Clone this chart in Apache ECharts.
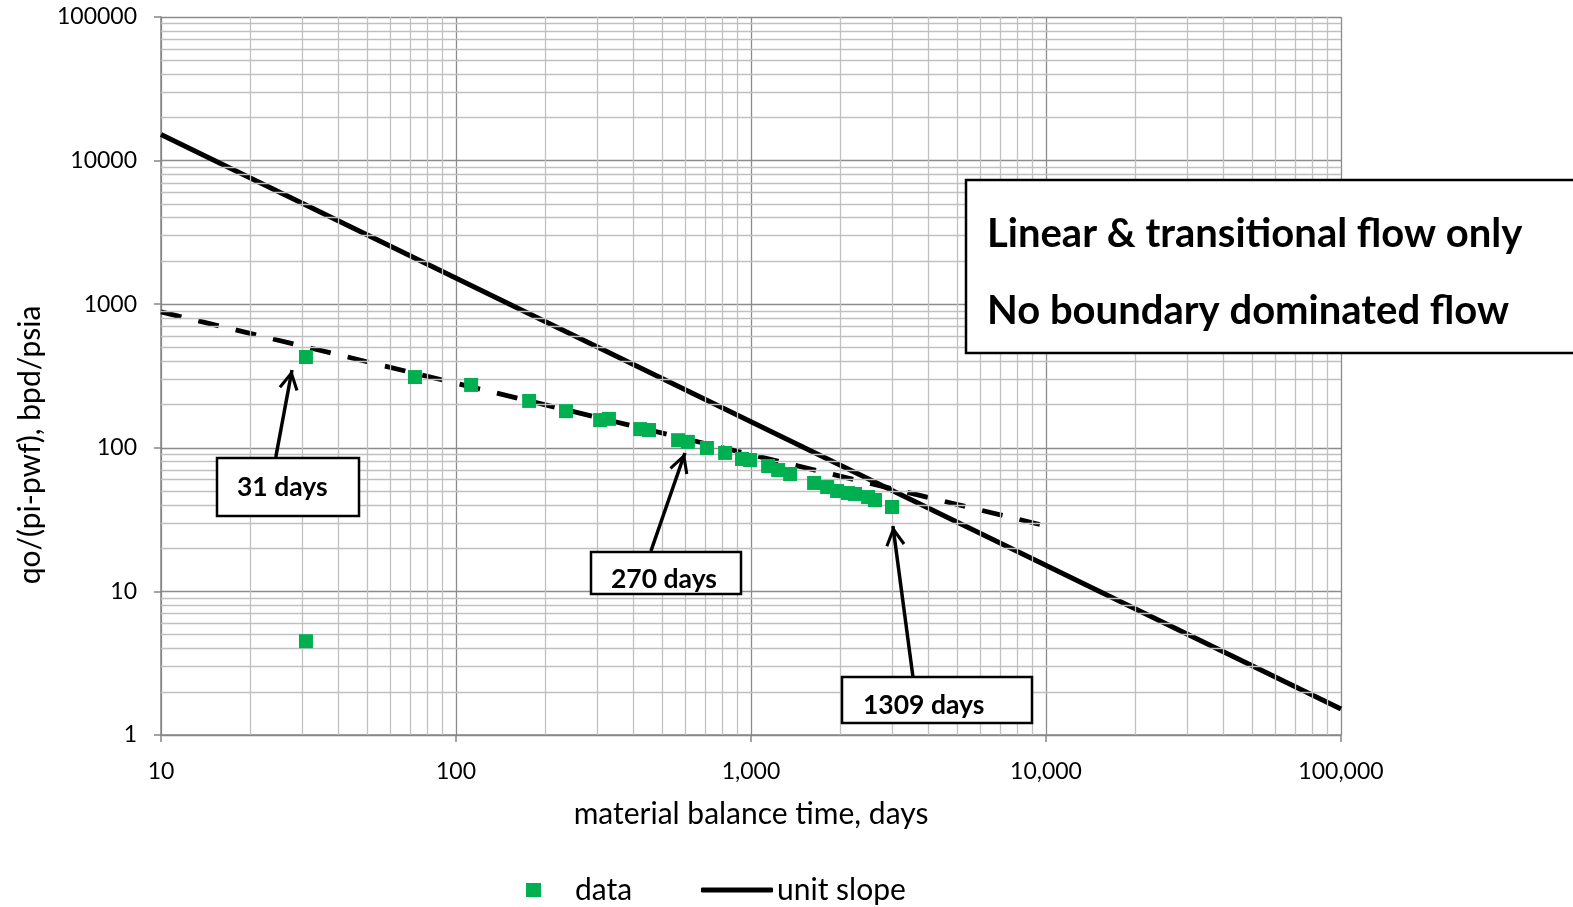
<!DOCTYPE html>
<html><head><meta charset="utf-8">
<script src="https://cdn.jsdelivr.net/npm/echarts@6/dist/echarts.min.js"></script>
<style>html,body{margin:0;padding:0;background:#fff}#c{width:1573px;height:907px}</style>
</head><body><div id="c"></div>
<script>
// ---- data ----
const xTickLabels = ['10', '100', '1,000', '10,000', '100,000'];
const yTickLabels = ['1', '10', '100', '1000', '10000', '100000'];
const dataTime = [31, 72.6, 112.5, 177, 236, 308, 330, 421, 451, 566, 611, 709, 817, 932, 993, 1143, 1236, 1357, 1636, 1811, 1959, 2133, 2253, 2494, 2632, 3006, 31];
const dataRate = [429, 311, 274, 212, 180, 156, 159, 135, 133, 113, 110, 99.7, 92.1, 83.6, 82.2, 74.7, 70.0, 65.7, 56.9, 53.3, 50.0, 48.4, 47.7, 45.4, 43.3, 38.7, 4.5];
const unitSlopeTime = [10, 100000];
const unitSlopeRate = [15200, 1.52];
const halfSlopeTime = [10, 9700];
const halfSlopeRate = [884, 29];
const arrowTail = [[24.5, 86.3], [458, 19.1], [3540, 2.54]];
const arrowTip = [[27.8, 348], [597, 92], [3027, 28.5]];
const calloutText = ['31 days', '270 days', '1309 days'];
const noteLines = ['Linear & transitional flow only', 'No boundary dominated flow'];
const minorMult = [2, 3, 4, 5, 6, 7, 8, 9];
const xDecades = [10, 100, 1000, 10000];
const yDecades = [1, 10, 100, 1000, 10000];

// ---- build ----
const zip = (a, b) => a.map((v, i) => [v, b[i]]);
const minorX = [], minorY = [];
xDecades.forEach(d => minorMult.forEach(m => minorX.push({ xAxis: d * m })));
yDecades.forEach(d => minorMult.forEach(m => minorY.push({ yAxis: d * m })));

const FONT = 'Lato';
const chevron = 'path://M10,0 L20,18 L17.3,19.5 L10,6.2 L2.7,19.5 L0,18 Z M10,-19.5 L10.001,-19.5 L10,-19.5 Z';

const chart = echarts.init(document.getElementById('c'), null, { renderer: 'canvas' });

const axisCommon = {
  type: 'log', logBase: 10,
  axisLine: { show: true, lineStyle: { color: '#868686', width: 1.5 } },
  axisTick: { show: true, length: 7, lineStyle: { color: '#868686', width: 1.5 } },
  minorTick: { show: false },
  splitLine: { show: true, lineStyle: { color: '#8c8c8c', width: 1.3 } },
  axisLabel: { fontFamily: FONT, fontSize: 23, color: '#000' }
};

const callouts = [
  { x: 217, y: 458, w: 142, h: 58, tx: 237, ty: 487 },
  { x: 591, y: 552, w: 150, h: 42, tx: 611, ty: 579 },
  { x: 842, y: 677, w: 190, h: 46, tx: 863, ty: 705 }
];

const graphics = [];
callouts.forEach((c, i) => {
  graphics.push({ type: 'rect', z: 100, shape: { x: c.x, y: c.y, width: c.w, height: c.h },
    style: { fill: '#fff', stroke: '#000', lineWidth: 2.5 } });
  graphics.push({ type: 'text', z: 101, x: c.tx, y: c.ty,
    style: { text: calloutText[i], font: 'bold 26.5px ' + FONT, fill: '#000', verticalAlign: 'middle', align: 'left' } });
});
graphics.push({ type: 'rect', z: 100, shape: { x: 966, y: 180, width: 700, height: 173 },
  style: { fill: '#fff', stroke: '#000', lineWidth: 2.5 } });
graphics.push({ type: 'text', z: 101, x: 987, y: 234,
  style: { text: noteLines[0], font: 'bold 40px ' + FONT, fill: '#000', verticalAlign: 'middle' } });
graphics.push({ type: 'text', z: 101, x: 987, y: 311,
  style: { text: noteLines[1], font: 'bold 40px ' + FONT, fill: '#000', verticalAlign: 'middle' } });
graphics.push({ type: 'text', z: 101, x: 30, y: 445, rotation: Math.PI / 2,
  style: { text: 'qo/(pi-pwf), bpd/psia', font: '30px ' + FONT, fill: '#000', align: 'center', verticalAlign: 'middle' } });

const option = {
  animation: false,
  backgroundColor: '#fff',
  grid: { left: 161, right: 232, top: 17, bottom: 172 },
  xAxis: Object.assign({}, axisCommon, {
    min: 10, max: 100000,
    axisLabel: Object.assign({}, axisCommon.axisLabel, { margin: 25,
      formatter: v => xTickLabels[Math.round(Math.log10(v)) - 1] }),
    name: 'material balance time, days', nameLocation: 'middle', nameGap: 64,
    nameTextStyle: { fontFamily: FONT, fontSize: 30, color: '#000' }
  }),
  yAxis: Object.assign({}, axisCommon, {
    min: 1, max: 100000,
    axisLabel: Object.assign({}, axisCommon.axisLabel, { margin: 24,
      formatter: v => yTickLabels[Math.round(Math.log10(v))] })
  }),
  legend: [
    { data: [{ name: 'data', icon: 'rect' }], left: 526, top: 875, padding: 0, itemWidth: 15, itemHeight: 14,
      textStyle: { fontFamily: FONT, fontSize: 30, color: '#000', padding: [0, 0, 0, 29] } },
    { data: [{ name: 'unit slope', icon: 'roundRect' }], left: 701, top: 875, padding: 0, itemWidth: 72, itemHeight: 5,
      itemStyle: { color: '#000' },
      textStyle: { fontFamily: FONT, fontSize: 30, color: '#000', padding: [0, 0, 0, -1] } }
  ],
  graphic: graphics,
  series: [
    { name: 'grid-minor', type: 'line', data: [], z: 1, silent: true,
      markLine: { silent: true, symbol: ['none', 'none'], label: { show: false },
        lineStyle: { color: '#c0c0c0', width: 1.3, type: 'solid' }, emphasis: { disabled: true },
        data: minorX.concat(minorY) } },
    { name: 'half slope', type: 'line', data: zip(halfSlopeTime, halfSlopeRate), symbol: 'none', z: 3,
      lineStyle: { color: '#000', width: 4.8, type: [21, 17.4], cap: 'butt' } },
    { name: 'unit slope', type: 'line', data: zip(unitSlopeTime, unitSlopeRate), symbol: 'none', z: 3,
      color: '#000', lineStyle: { color: '#000', width: 5 } },
    { name: 'data', type: 'scatter', data: zip(dataTime, dataRate), symbol: 'rect', symbolSize: 14, z: 5,
      itemStyle: { color: '#00b050', opacity: 1 } },
    { name: 'arrows', type: 'line', data: [], z: 6, silent: true,
      markLine: { silent: true, label: { show: false }, emphasis: { disabled: true },
        symbol: ['none', chevron], symbolSize: [20, 40],
        lineStyle: { color: '#000', width: 3.5, type: 'solid' },
        data: arrowTail.map((t, i) => [{ coord: t }, { coord: arrowTip[i] }]) } }
  ]
};
chart.setOption(option);
</script>
</body></html>
